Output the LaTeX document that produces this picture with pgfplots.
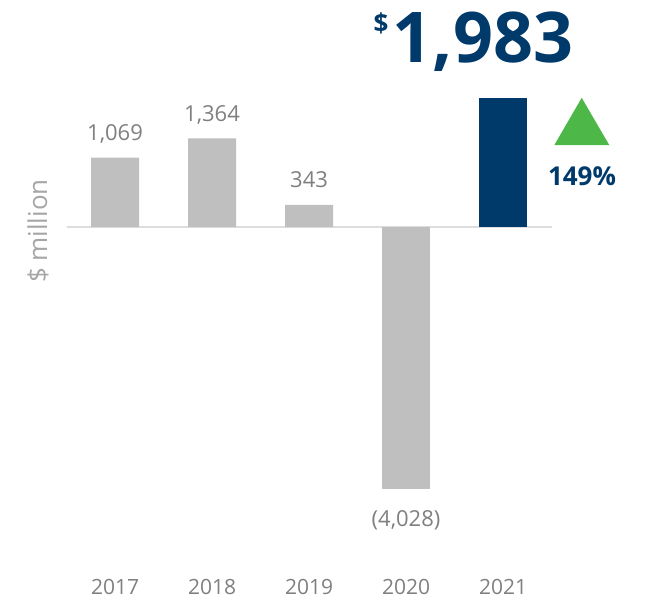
\documentclass[border=0pt]{standalone}
\usepackage{fontspec}
\setmainfont{Open Sans}
\usepackage{pgfplots}
\pgfplotsset{compat=1.18}

\definecolor{barGray}{HTML}{BFBFBF}
\definecolor{navy}{HTML}{003A6B}
\definecolor{txtGray}{HTML}{7F7F7F}
\definecolor{lblGray}{HTML}{A6A6A6}
\definecolor{upGreen}{HTML}{4DB848}
\definecolor{zeroLine}{HTML}{DDDDDD}

\begin{document}
\begin{tikzpicture}[x=1pt,y=1pt]
\begin{axis}[
    at={(0,0)}, anchor=south west,
    scale only axis, width=646pt, height=599pt,
    xmin=-1.186, xmax=5.474,
    ymin=-5723, ymax=3492,
    clip=false,
    axis line style={draw=none},
    major tick length=0pt,
    ytick=\empty,
    xtick={0,1,2,3,4},
    xticklabels={2017,2018,2019,2020,2021},
    xticklabel style={anchor=base, yshift=5pt, text=txtGray,
        font=\fontsize{21}{25}\selectfont},
]
% zero line
\addplot[zeroLine, line width=1.5pt, no marks] coordinates {(-0.5,0) (4.5,0)};

% positive grey bars
\addplot[ybar, bar width=48pt, bar shift=0pt, fill=barGray, draw=none,
    point meta=explicit symbolic, nodes near coords,
    every node near coord/.append style={anchor=base, yshift=17pt,
        text=txtGray, font=\fontsize{22}{26}\selectfont}]
    coordinates {(0,1069) [1,069] (1,1364) [1,364] (2,343) [343]};

% negative bar
\addplot[ybar, bar width=48pt, bar shift=0pt, fill=barGray, draw=none,
    point meta=explicit symbolic, nodes near coords,
    every node near coord/.append style={anchor=base, yshift=-38pt,
        text=txtGray, font=\fontsize{22}{26}\selectfont}]
    coordinates {(3,-4028) [(4,028)]};

% current year
\addplot[ybar, bar width=48pt, bar shift=0pt, fill=navy, draw=none]
    coordinates {(4,1983)};
\end{axis}

% y label
\node[rotate=90, text=lblGray, font=\fontsize{26}{30}\selectfont]
    at (38,368) {\$ million};

% headline figure
\node[anchor=base, text=navy, inner sep=0pt,
    font=\fontsize{70}{76}\selectfont\bfseries] (big) at (483,537) {1,983};
\node[anchor=north east, text=navy, inner sep=0pt, xshift=-4pt, yshift=-1pt,
    font=\fontsize{26}{30}\selectfont\bfseries] at (big.north west) {\$};

% change indicator
\fill[upGreen] (581.7,501.3) -- (609.3,454) -- (554.3,454) -- cycle;
\node[anchor=base, text=navy, inner sep=0pt,
    font=\fontsize{26}{30}\selectfont\bfseries] at (582,414) {149\%};
\end{tikzpicture}
\end{document}
